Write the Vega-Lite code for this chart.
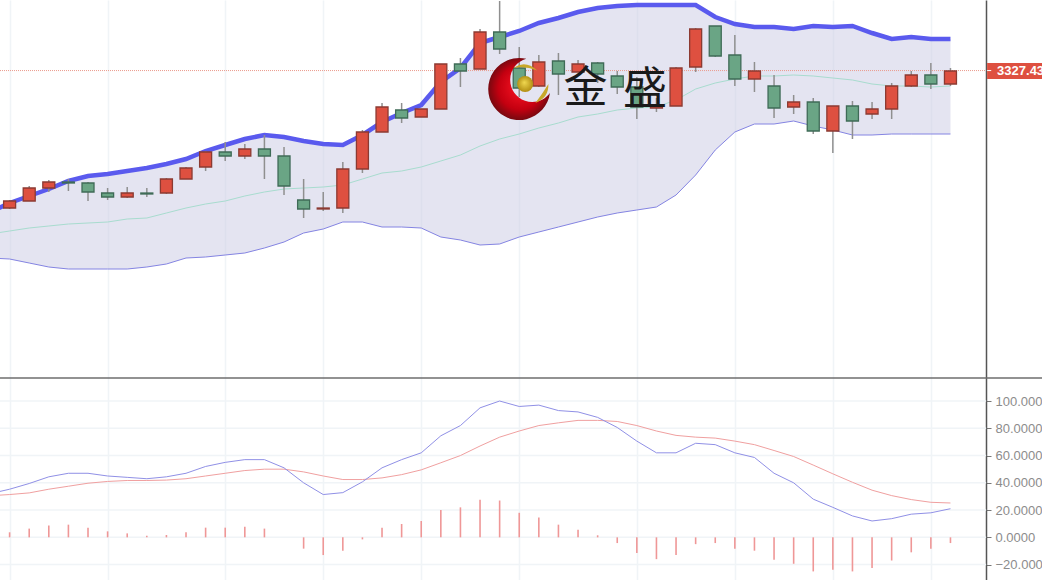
{
"$schema":"https://vega.github.io/schema/vega-lite/v6.json",
"padding":0,
"autosize":{"type":"none"},
"width":1042,
"height":580,
"background":"#ffffff",
"config":{"view":{"stroke":null}},
"datasets":{
"rows":[
{"i":-1,"upper":3186,"mid":3164,"lower":3140,"dif":32,"dea":30.5},
{"i":0,"dir":"up","open":3190,"close":3197,"high":3198,"low":3189,"upper":3195,"mid":3167,"lower":3139,"dif":35.3,"dea":31.4,"hist":3.7},
{"i":1,"dir":"up","open":3197,"close":3210,"high":3212,"low":3197,"upper":3202,"mid":3170,"lower":3135,"dif":39.5,"dea":32.6,"hist":6.4},
{"i":2,"dir":"up","open":3210,"close":3216,"high":3218,"low":3206,"upper":3209,"mid":3172,"lower":3131,"dif":44.4,"dea":35.3,"hist":8.6},
{"i":3,"dir":"down","open":3216,"close":3215,"high":3219,"low":3207,"upper":3217,"mid":3174,"lower":3129,"dif":47,"dea":37.5,"hist":9.3},
{"i":4,"dir":"down","open":3215,"close":3206,"high":3216,"low":3197,"upper":3222,"mid":3175,"lower":3129,"dif":47,"dea":39.7,"hist":7.1},
{"i":5,"dir":"down","open":3205,"close":3201,"high":3210,"low":3198,"upper":3224,"mid":3176,"lower":3129,"dif":45,"dea":41,"hist":4.4},
{"i":6,"dir":"up","open":3201,"close":3205,"high":3211,"low":3200,"upper":3227,"mid":3179,"lower":3129,"dif":44,"dea":41.7,"hist":2.9},
{"i":7,"dir":"down","open":3205,"close":3204,"high":3210,"low":3201,"upper":3230,"mid":3180,"lower":3131,"dif":43,"dea":41.7,"hist":1.2},
{"i":8,"dir":"up","open":3205,"close":3219,"high":3220,"low":3204,"upper":3234,"mid":3185,"lower":3134,"dif":44.4,"dea":42,"hist":1.7},
{"i":9,"dir":"up","open":3219,"close":3230,"high":3231,"low":3219,"upper":3239,"mid":3190,"lower":3140,"dif":47,"dea":43,"hist":3.7},
{"i":10,"dir":"up","open":3231,"close":3246,"high":3247,"low":3227,"upper":3247,"mid":3194,"lower":3141,"dif":52,"dea":45,"hist":7.1},
{"i":11,"dir":"down","open":3246,"close":3242,"high":3256,"low":3237,"upper":3253,"mid":3197,"lower":3143,"dif":55,"dea":47,"hist":7.1},
{"i":12,"dir":"up","open":3242,"close":3249,"high":3254,"low":3239,"upper":3259,"mid":3202,"lower":3145,"dif":57,"dea":49,"hist":7.8},
{"i":13,"dir":"down","open":3249,"close":3242,"high":3263,"low":3219,"upper":3263,"mid":3206,"lower":3150,"dif":57,"dea":50,"hist":6.4},
{"i":14,"dir":"down","open":3242,"close":3212,"high":3251,"low":3203,"upper":3261,"mid":3209,"lower":3156,"dif":51,"dea":50,"hist":0},
{"i":15,"dir":"down","open":3198,"close":3189,"high":3219,"low":3180,"upper":3257,"mid":3210,"lower":3165,"dif":40,"dea":48,"hist":-8.3},
{"i":16,"dir":"up","open":3189,"close":3190,"high":3206,"low":3187,"upper":3254,"mid":3211,"lower":3169,"dif":31.4,"dea":45,"hist":-13},
{"i":17,"dir":"up","open":3190,"close":3229,"high":3236,"low":3185,"upper":3253,"mid":3213,"lower":3176,"dif":32.8,"dea":42.4,"hist":-9.8},
{"i":18,"dir":"up","open":3229,"close":3266,"high":3268,"low":3225,"upper":3263,"mid":3219,"lower":3176,"dif":40.7,"dea":42.4,"hist":-1.5},
{"i":19,"dir":"up","open":3266,"close":3291,"high":3295,"low":3266,"upper":3276,"mid":3225,"lower":3171,"dif":51,"dea":43.6,"hist":7.1},
{"i":20,"dir":"down","open":3288,"close":3280,"high":3295,"low":3275,"upper":3285,"mid":3227,"lower":3171,"dif":57,"dea":46,"hist":9.8},
{"i":21,"dir":"up","open":3281,"close":3289,"high":3289,"low":3281,"upper":3293,"mid":3231,"lower":3170,"dif":62,"dea":49.5,"hist":12},
{"i":22,"dir":"up","open":3289,"close":3334,"high":3334,"low":3289,"upper":3316,"mid":3237,"lower":3161,"dif":74.5,"dea":54.7,"hist":20},
{"i":23,"dir":"down","open":3334,"close":3327,"high":3340,"low":3311,"upper":3330,"mid":3243,"lower":3158,"dif":82,"dea":60,"hist":22},
{"i":24,"dir":"up","open":3329,"close":3366,"high":3369,"low":3329,"upper":3355,"mid":3252,"lower":3153,"dif":95,"dea":67,"hist":27.5},
{"i":25,"dir":"down","open":3366,"close":3349,"high":3397,"low":3344,"upper":3361,"mid":3259,"lower":3154,"dif":100,"dea":73.5,"hist":27},
{"i":26,"dir":"down","open":3330,"close":3310,"high":3351,"low":3301,"upper":3367,"mid":3264,"lower":3161,"dif":96,"dea":78,"hist":18},
{"i":27,"dir":"up","open":3312,"close":3336,"high":3343,"low":3311,"upper":3375,"mid":3270,"lower":3166,"dif":97,"dea":82,"hist":14.5},
{"i":28,"dir":"down","open":3337,"close":3324,"high":3345,"low":3303,"upper":3380,"mid":3275,"lower":3171,"dif":93,"dea":84,"hist":9.3},
{"i":29,"dir":"up","open":3326,"close":3334,"high":3338,"low":3326,"upper":3386,"mid":3281,"lower":3176,"dif":92,"dea":85.8,"hist":5.6},
{"i":30,"dir":"down","open":3335,"close":3324,"high":3336,"low":3315,"upper":3390,"mid":3284,"lower":3181,"dif":88,"dea":85.8,"hist":1.5},
{"i":31,"dir":"down","open":3322,"close":3311,"high":3327,"low":3304,"upper":3392,"mid":3288,"lower":3185,"dif":80.6,"dea":85,"hist":-4.2},
{"i":32,"dir":"down","open":3311,"close":3291,"high":3321,"low":3279,"upper":3393,"mid":3290,"lower":3188,"dif":70.6,"dea":82,"hist":-11.5},
{"i":33,"dir":"up","open":3290,"close":3292,"high":3300,"low":3286,"upper":3393,"mid":3291,"lower":3191,"dif":62,"dea":78,"hist":-16},
{"i":34,"dir":"up","open":3292,"close":3330,"high":3331,"low":3292,"upper":3393,"mid":3298,"lower":3203,"dif":62,"dea":74.8,"hist":-13},
{"i":35,"dir":"up","open":3331,"close":3369,"high":3370,"low":3326,"upper":3393,"mid":3309,"lower":3223,"dif":69,"dea":73.5,"hist":-5},
{"i":36,"dir":"down","open":3372,"close":3342,"high":3372,"low":3341,"upper":3381,"mid":3315,"lower":3248,"dif":68,"dea":72.8,"hist":-4.2},
{"i":37,"dir":"down","open":3343,"close":3319,"high":3363,"low":3312,"upper":3374,"mid":3319,"lower":3266,"dif":62,"dea":70.6,"hist":-8.3},
{"i":38,"dir":"up","open":3319,"close":3327,"high":3336,"low":3306,"upper":3371,"mid":3322,"lower":3274,"dif":58.6,"dea":68,"hist":-9.8},
{"i":39,"dir":"down","open":3312,"close":3290,"high":3323,"low":3280,"upper":3371,"mid":3322,"lower":3274,"dif":47,"dea":63.7,"hist":-16.4},
{"i":40,"dir":"up","open":3291,"close":3296,"high":3303,"low":3284,"upper":3369,"mid":3323,"lower":3277,"dif":40,"dea":59.3,"hist":-19.4},
{"i":41,"dir":"down","open":3296,"close":3267,"high":3300,"low":3264,"upper":3372,"mid":3322,"lower":3272,"dif":28,"dea":53,"hist":-25},
{"i":42,"dir":"up","open":3267,"close":3292,"high":3292,"low":3245,"upper":3371,"mid":3320,"lower":3268,"dif":22,"dea":46.6,"hist":-23.8},
{"i":43,"dir":"down","open":3292,"close":3277,"high":3297,"low":3259,"upper":3372,"mid":3318,"lower":3263,"dif":15.7,"dea":40.4,"hist":-25},
{"i":44,"dir":"up","open":3284,"close":3289,"high":3296,"low":3279,"upper":3365,"mid":3314,"lower":3263,"dif":12,"dea":34.6,"hist":-22.5},
{"i":45,"dir":"up","open":3289,"close":3312,"high":3315,"low":3279,"upper":3359,"mid":3312,"lower":3264,"dif":13.7,"dea":30.6,"hist":-17},
{"i":46,"dir":"up","open":3312,"close":3323,"high":3327,"low":3311,"upper":3361,"mid":3312,"lower":3264,"dif":17,"dea":27.7,"hist":-11},
{"i":47,"dir":"down","open":3323,"close":3314,"high":3335,"low":3309,"upper":3359,"mid":3311,"lower":3264,"dif":18,"dea":25.7,"hist":-8.3},
{"i":48,"dir":"up","open":3314,"close":3327,"high":3330,"low":3312,"upper":3359,"mid":3312,"lower":3264,"dif":21,"dea":25.2,"hist":-4.2}
]
},
"encoding":{"x":{"field":"i","type":"quantitative","scale":{"domain":[-0.49,52.67],"nice":false,"zero":false,"padding":0},"axis":{"title":null,"orient":"bottom","values":[0,5,11,16,21,26,32,37,42,47],"labels":false,"ticks":false,"domain":false,"grid":true,"gridColor":"#f0f4f7","gridWidth":1.6}}},
"layer":[
{"data":{"values":[{"i":-0.49,"i2":49.82,"v":100},{"i":-0.49,"i2":49.82,"v":80},{"i":-0.49,"i2":49.82,"v":60},{"i":-0.49,"i2":49.82,"v":40},{"i":-0.49,"i2":49.82,"v":20},{"i":-0.49,"i2":49.82,"v":0},{"i":-0.49,"i2":49.82,"v":-20}]},"mark":{"type":"rule","stroke":"#f0f4f7","strokeWidth":1.5},
 "encoding":{"x2":{"field":"i2"},"y":{"field":"v","type":"quantitative","scale":{"domain":[-31.3,394.2],"nice":false,"zero":false},"axis":null}}},
{"data":{"name":"rows"},"mark":{"type":"area","clip":true,"fill":"#c9c9e3","opacity":0.5,"stroke":null},
 "encoding":{"y":{"field":"upper","type":"quantitative","scale":{"domain":[2818,3398],"nice":false,"zero":false},"axis":null},"y2":{"field":"lower"}}},
{"data":{"name":"rows"},"mark":{"type":"line","clip":true,"stroke":"#8484e2","strokeWidth":1},
 "encoding":{"y":{"field":"lower","type":"quantitative","scale":{"domain":[2818,3398],"nice":false,"zero":false},"axis":null}}},
{"data":{"name":"rows"},"mark":{"type":"line","clip":true,"stroke":"#a8dccf","strokeWidth":1},
 "encoding":{"y":{"field":"mid","type":"quantitative","scale":{"domain":[2818,3398],"nice":false,"zero":false},"axis":null}}},
{"data":{"name":"rows"},"mark":{"type":"line","clip":true,"stroke":"#5a5aee","strokeWidth":4.5},
 "encoding":{"y":{"field":"upper","type":"quantitative","scale":{"domain":[2818,3398],"nice":false,"zero":false},"axis":null}}},
{"data":{"values":[{"i":-0.49,"i2":49.82,"p":3327.43}]},"mark":{"type":"rule","stroke":"#ea9a8c","strokeWidth":1,"strokeDash":[1,1]},
 "encoding":{"x2":{"field":"i2"},"y":{"field":"p","type":"quantitative","scale":{"domain":[2818,3398],"nice":false,"zero":false},"axis":null}}},
{"data":{"name":"rows"},"mark":{"type":"rule","clip":true,"stroke":"#8f8f8f","strokeWidth":1.5},
 "encoding":{"y":{"field":"low","type":"quantitative","scale":{"domain":[2818,3398],"nice":false,"zero":false},"axis":null},"y2":{"field":"high"}}},
{"data":{"name":"rows"},"mark":{"type":"bar","clip":true,"size":12,"strokeWidth":1.3},
 "encoding":{"y":{"field":"open","type":"quantitative","scale":{"domain":[2818,3398],"nice":false,"zero":false},"axis":null},"y2":{"field":"close"},
 "fill":{"field":"dir","type":"nominal","scale":{"domain":["up","down"],"range":["#de5040","#6aa585"]},"legend":null},
 "stroke":{"field":"dir","type":"nominal","scale":{"domain":["up","down"],"range":["#8c3a32","#3f6b57"]},"legend":null}}},
{"data":{"values":[{"i":26,"p":3309,"part":"crescent"}]},"mark":{"type":"point","filled":true,"size":3844,"opacity":1,"strokeWidth":0,"shape":"M0.229,-0.973 A1,1 0 1 0 0.991,0.131 A0.71,0.71 0 1 1 0.229,-0.973Z","fill":{"gradient":"radial","x1":0.55,"y1":0.45,"r1":0.1,"x2":0.5,"y2":0.5,"r2":0.52,"stops":[{"offset":0,"color":"#f01020"},{"offset":0.6,"color":"#c40010"},{"offset":1,"color":"#6e0a10"}]}},
 "encoding":{"y":{"field":"p","type":"quantitative","scale":{"domain":[2818,3398],"nice":false,"zero":false},"axis":null}}},
{"data":{"values":[{"i":26,"p":3309,"part":"top arc"}]},"mark":{"type":"point","filled":true,"size":3844,"opacity":1,"strokeWidth":0,"fill":"#c8a82a","shape":"M-0.19,-0.68 Q0.2,-0.95 0.58,-0.6 Q0.2,-0.75 -0.19,-0.68Z"},
 "encoding":{"y":{"field":"p","type":"quantitative","scale":{"domain":[2818,3398],"nice":false,"zero":false},"axis":null}}},
{"data":{"values":[{"i":26,"p":3309,"part":"right arc"}]},"mark":{"type":"point","filled":true,"size":3844,"opacity":1,"strokeWidth":0,"fill":"#c8a82a","shape":"M0.94,-0.16 Q0.96,0.28 0.52,0.45 Q0.72,0.2 0.94,-0.16Z"},
 "encoding":{"y":{"field":"p","type":"quantitative","scale":{"domain":[2818,3398],"nice":false,"zero":false},"axis":null}}},
{"data":{"values":[{"i":26.3,"p":3314,"part":"ball"}]},"mark":{"type":"point","filled":true,"size":256,"opacity":1,"strokeWidth":0,"shape":"circle","fill":{"gradient":"radial","x1":0.45,"y1":0.4,"r1":0,"x2":0.5,"y2":0.5,"r2":0.52,"stops":[{"offset":0,"color":"#f0d850"},{"offset":1,"color":"#b08c10"}]}},
 "encoding":{"y":{"field":"p","type":"quantitative","scale":{"domain":[2818,3398],"nice":false,"zero":false},"axis":null}}},
{"data":{"values":[{"i":29.38,"p":3308,"t":"金"},{"i":32.42,"p":3307,"t":"盛"}]},"mark":{"type":"text","font":"Noto Sans CJK SC","fontSize":44,"fontWeight":"normal","fill":"#1a1a1a","align":"center","baseline":"middle"},
 "encoding":{"y":{"field":"p","type":"quantitative","scale":{"domain":[2818,3398],"nice":false,"zero":false},"axis":null},"text":{"field":"t"}}},
{"data":{"name":"rows"},"mark":{"type":"rule","clip":true,"stroke":"#ef9797","strokeWidth":1.6},
 "encoding":{"y":{"field":"hist","type":"quantitative","scale":{"domain":[-31.3,394.2],"nice":false,"zero":false},"axis":{"title":null,"orient":"right","offset":-56,"values":[100,80,60,40,20,0,-20],"labelExpr":"slice(format(datum.value,'.4f'),0,7)","labelFont":"Liberation Sans","labelFontSize":13,"labelColor":"#8c8c8c","labelPadding":4,"labelLimit":80,"labelOverlap":false,"tickSize":5,"tickColor":"#777777","domain":true,"domainColor":"#555555","domainWidth":1.5,"grid":false}},"y2":{"datum":0}}},
{"data":{"name":"rows"},"mark":{"type":"line","clip":true,"stroke":"#f0a0a0","strokeWidth":1},
 "encoding":{"y":{"field":"dea","type":"quantitative","scale":{"domain":[-31.3,394.2],"nice":false,"zero":false},"axis":null}}},
{"data":{"name":"rows"},"mark":{"type":"line","clip":true,"stroke":"#9090e6","strokeWidth":1},
 "encoding":{"y":{"field":"dif","type":"quantitative","scale":{"domain":[-31.3,394.2],"nice":false,"zero":false},"axis":null}}},
{"data":{"values":[{"i":-0.49,"i2":52.67,"p":3020}]},"mark":{"type":"rule","stroke":"#6e6e6e","strokeWidth":1.5},
 "encoding":{"x2":{"field":"i2"},"y":{"field":"p","type":"quantitative","scale":{"domain":[2818,3398],"nice":false,"zero":false},"axis":null}}},
{"data":{"values":[{"i":49.87,"i2":52.67,"p":3335,"p2":3319}]},"mark":{"type":"rect","fill":"#de5040"},
 "encoding":{"x2":{"field":"i2"},"y":{"field":"p","type":"quantitative","scale":{"domain":[2818,3398],"nice":false,"zero":false},"axis":null},"y2":{"field":"p2"}}},
{"data":{"values":[{"i":49.87,"i2":50.08,"p":3327.43}]},"mark":{"type":"rule","stroke":"#ffffff","strokeWidth":1},
 "encoding":{"x2":{"field":"i2"},"y":{"field":"p","type":"quantitative","scale":{"domain":[2818,3398],"nice":false,"zero":false},"axis":null}}},
{"data":{"values":[{"i":50.38,"p":3327,"t":"3327.430"}]},"mark":{"type":"text","font":"Liberation Sans","fontSize":13,"fontWeight":"bold","fill":"#ffffff","align":"left","baseline":"middle"},
 "encoding":{"y":{"field":"p","type":"quantitative","scale":{"domain":[2818,3398],"nice":false,"zero":false},"axis":null},"text":{"field":"t"}}}
],
"resolve":{"scale":{"y":"independent","fill":"independent","stroke":"independent"},"axis":{"y":"independent"}}
}
